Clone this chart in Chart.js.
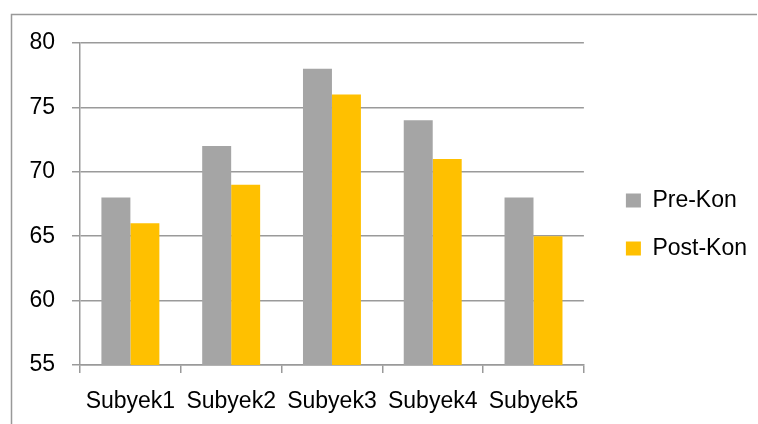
<!DOCTYPE html>
<html>
<head>
<meta charset="utf-8">
<script src="https://cdn.jsdelivr.net/npm/chart.js@4.4.1/dist/chart.umd.min.js"></script>
<style>
html,body{margin:0;padding:0;background:#fff;}
#wrap{position:relative;width:758px;height:424px;}
</style>
</head>
<body>
<div id="wrap"><canvas id="c" width="758" height="424"></canvas></div>
<script>
const categories = ["Subyek1", "Subyek2", "Subyek3", "Subyek4", "Subyek5"];
const preKon = [68, 72, 78, 74, 68];
const postKon = [66, 69, 76, 71, 65];
const seriesNames = ["Pre-Kon", "Post-Kon"];
const yMin = 55, yMax = 80, yStep = 5;

const frame = {
  id: 'frame',
  beforeDraw(chart) {
    const ctx = chart.ctx;
    ctx.save();
    ctx.fillStyle = '#fff';
    ctx.fillRect(0, 0, chart.width, chart.height);
    ctx.strokeStyle = '#999';
    ctx.lineWidth = 1.5;
    ctx.beginPath();
    ctx.moveTo(11.5, 424);
    ctx.lineTo(11.5, 14.5);
    ctx.lineTo(757, 14.5);
    ctx.stroke();
    ctx.restore();
  }
};

const legendShift = {
  id: 'legendShift',
  afterLayout(chart) {
    const lg = chart.legend;
    if (!lg) return;
    const dx = 17, dy = -9;
    lg.left += dx; lg.right += dx;
    lg.top += dy; lg.bottom += dy;
    if (lg.legendHitBoxes) lg.legendHitBoxes.forEach(h => { h.left += dx; h.top += dy; });
  }
};

const FONT = "'Liberation Sans', Arial, sans-serif";

new Chart(document.getElementById('c'), {
  type: 'bar',
  data: {
    labels: categories,
    datasets: [
      { label: seriesNames[0], data: preKon, backgroundColor: '#A5A5A5', borderWidth: 0 },
      { label: seriesNames[1], data: postKon, backgroundColor: '#FFC000', borderWidth: 0 }
    ]
  },
  options: {
    responsive: false,
    animation: false,
    devicePixelRatio: 1,
    layout: { padding: { left: 0, top: 43, right: 18, bottom: 0 } },
    datasets: { bar: { categoryPercentage: 0.575, barPercentage: 1.0 } },
    plugins: {
      legend: {
        position: 'right',
        labels: {
          font: { family: FONT, size: 23 },
          color: '#000',
          boxWidth: 15,
          boxHeight: 14,
          padding: 25
        }
      },
      tooltip: { enabled: false }
    },
    scales: {
      x: {
        offset: true,
        grid: { display: true, drawOnChartArea: false, offset: true, color: '#9a9a9a', tickLength: 8, lineWidth: 1.5 },
        border: { color: '#9a9a9a', width: 1.5 },
        ticks: { font: { family: FONT, size: 23 }, color: '#000', padding: 15, maxRotation: 0 },
        afterFit(s) { s.height = 59; }
      },
      y: {
        min: yMin, max: yMax,
        grid: { color: '#9a9a9a', tickLength: 8, lineWidth: 1.5 },
        border: { color: '#9a9a9a', width: 1.5 },
        ticks: { stepSize: yStep, font: { family: FONT, size: 23 }, color: '#000', padding: 17 },
        afterFit(s) { s.width = 80; }
      }
    }
  },
  plugins: [frame, legendShift]
});
</script>
</body>
</html>
